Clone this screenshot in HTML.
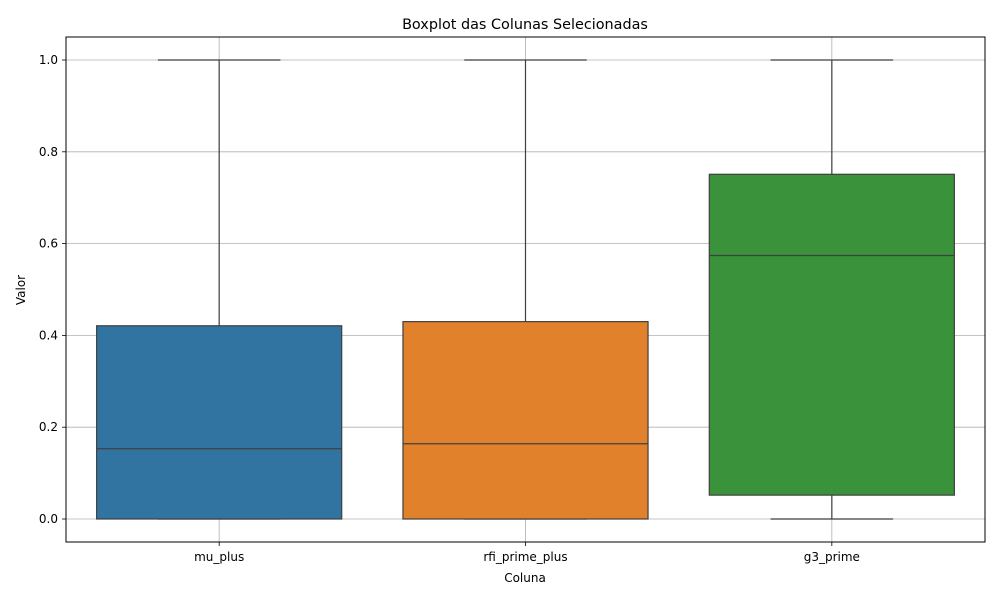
<!DOCTYPE html>
<html><head><meta charset="utf-8"><style>
html,body{margin:0;padding:0;background:#fff;overflow:hidden;width:1000px;height:600px;}
svg{display:block;}
svg text{font-family:"DejaVu Sans","Liberation Sans",sans-serif;}
</style></head><body>
<svg id="chart" width="1000" height="600" xmlns="http://www.w3.org/2000/svg">
<text x="525" y="29" text-anchor="middle" font-size="14.4" fill="#000">Boxplot das Colunas Selecionadas</text>
<text x="525" y="582" text-anchor="middle" font-size="12" fill="#000">Coluna</text>
<text x="0" y="0" transform="translate(25,290) rotate(-90)" text-anchor="middle" font-size="12" fill="#000">Valor</text>
</svg>
<script>
const categories=["mu_plus","rfi_prime_plus","g3_prime"];
const mins=[0,0,0];
const q1s=[0,0,0.052];
const medians=[0.153,0.164,0.574];
const q3s=[0.421,0.430,0.751];
const maxs=[1,1,1];
const colors=["#3274a1","#e1812c","#3a923a"];
const yTicks=[0,0.2,0.4,0.6,0.8,1.0];
const yTickLabels=["0.0","0.2","0.4","0.6","0.8","1.0"];

const L=66,R=985,T=37,B=542;
const svg=document.getElementById('chart');
const NS="http://www.w3.org/2000/svg";
function y(v){return 519-(v)*459;}
function x(i){return L+(i+0.5)*(R-L)/categories.length;}
const step=(R-L)/categories.length;
function mk(tag,attrs,parent){const e=document.createElementNS(NS,tag);for(const k in attrs)e.setAttribute(k,attrs[k]);(parent||svg).appendChild(e);return e;}

const grid=mk('g',{});


yTicks.forEach(v=>{mk('line',{x1:L,x2:R,y1:y(v),y2:y(v),stroke:'#b0b0b0','stroke-width':0.8},grid);});
categories.forEach((c,i)=>{mk('line',{x1:x(i),x2:x(i),y1:T,y2:B,stroke:'#b0b0b0','stroke-width':0.8},grid);});

categories.forEach((c,i)=>{
  const g=mk('g',{});
  
  
  const cx=x(i),bw=step*0.8,cw=bw/2;
  mk('line',{x1:cx,x2:cx,y1:y(q3s[i]),y2:y(maxs[i]),stroke:'#3f3f3f','stroke-width':1.2},g);
  mk('line',{x1:cx,x2:cx,y1:y(q1s[i]),y2:y(mins[i]),stroke:'#3f3f3f','stroke-width':1.2},g);
  mk('line',{x1:cx-cw/2,x2:cx+cw/2,y1:y(maxs[i]),y2:y(maxs[i]),stroke:'#3f3f3f','stroke-width':1.2},g);
  mk('line',{x1:cx-cw/2,x2:cx+cw/2,y1:y(mins[i]),y2:y(mins[i]),stroke:'#3f3f3f','stroke-width':1.2},g);
  mk('rect',{x:cx-bw/2,y:y(q3s[i]),width:bw,height:y(q1s[i])-y(q3s[i]),fill:colors[i],stroke:'#3f3f3f','stroke-width':1.2},g);
  mk('line',{x1:cx-bw/2,x2:cx+bw/2,y1:y(medians[i]),y2:y(medians[i]),stroke:'#3f3f3f','stroke-width':1.2},g);
  mk('line',{x1:cx,x2:cx,y1:B,y2:B+4,stroke:'#000','stroke-width':0.8},g);
  const t=mk('text',{x:cx,y:B+19,'text-anchor':'middle','font-size':12,fill:'#000'},g);
  t.textContent=c;
});

yTicks.forEach((v,i)=>{
  mk('line',{x1:L-4,x2:L,y1:y(v),y2:y(v),stroke:'#000','stroke-width':0.8});
  const t=mk('text',{x:L-8,y:y(v)+4,'text-anchor':'end','font-size':12,fill:'#000'});
  
  
  t.textContent=yTickLabels[i];
});

const frame=mk('rect',{x:L,y:T,width:R-L,height:B-T,fill:'none',stroke:'#000','stroke-width':1});


</script>
</body></html>
